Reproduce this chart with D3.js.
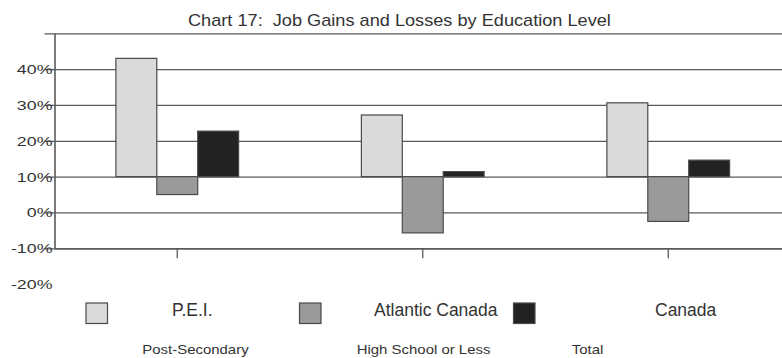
<!DOCTYPE html>
<html>
<head>
<meta charset="utf-8">
<script src="https://cdn.jsdelivr.net/npm/d3@7"></script>
<style>
  body { margin: 0; background: #fff; }
  svg { display: block; font-family: "Liberation Sans", Arial, sans-serif; }
</style>
</head>
<body>
<div id="chart"></div>
<script>
// data (percent change)
const categories = ['Post-Secondary', 'High School or Less', 'Total'];
const series = ['P.E.I.', 'Atlantic Canada', 'Canada'];
const peiValues = [33, 17.2, 20.6];
const atlanticValues = [-5, -15.7, -12.5];
const canadaValues = [12.7, 1.4, 4.6];
const yTicks = [-20, -10, 0, 10, 20, 30, 40];

const COLORS = ['#dadada', '#9a9a9a', '#222222'];
const LINE = '#5a5a5a';

const WIDTH = 782, HEIGHT = 358;
const PLOT = {LEFT: 54.5, RIGHT: 791, TOP: 33.3, BOTTOM: 248.3};

const rows = categories.map((c, i) => ({
  category: c,
  values: [peiValues[i], atlanticValues[i], canadaValues[i]]
}));

const svg = d3.select('#chart')
  .append('svg')
    .attr('width', WIDTH)
    .attr('height', HEIGHT);

const x0 = d3.scaleBand()
  .domain(categories)
  .range([PLOT.LEFT, PLOT.RIGHT]);

const x1 = d3.scaleBand()
  .domain(series)
  .range([0, x0.bandwidth()])
  .paddingInner(0)
  .paddingOuter(1.5);

const y = d3.scaleLinear()
  .domain([-20, 40])
  .range([PLOT.BOTTOM, PLOT.TOP]);

const step = y(0) - y(10);

// gridlines + left axis (labels sit one step low, as in the original)
const yAxis = svg.append('g')
  .attr('transform', `translate(${PLOT.LEFT}, 0)`)
  .call(d3.axisLeft(y)
    .tickValues(yTicks)
    .tickSizeInner(-(PLOT.RIGHT - PLOT.LEFT))
    .tickSizeOuter(0)
    .tickFormat(d => d + '%'));

yAxis.select('.domain').attr('stroke', LINE).attr('stroke-width', 1.6);
yAxis.selectAll('.tick line')
  .attr('x1', -10)
  .attr('stroke', LINE)
  .attr('stroke-width', 1.3);
yAxis.selectAll('.tick text')
  .attr('x', null)
  .attr('dy', null)
  .attr('transform', `translate(-2, ${step + 4.5}) scale(1.32, 1)`)
  .attr('font-size', 13.5)
  .attr('font-family', '"Liberation Sans", Arial, sans-serif')
  .attr('fill', '#333');

// bottom axis
const xAxis = svg.append('g')
  .attr('transform', `translate(0, ${PLOT.BOTTOM})`)
  .call(d3.axisBottom(x0).tickSize(10).tickSizeOuter(0).tickFormat(''));

xAxis.select('.domain').attr('stroke', LINE).attr('stroke-width', 1.4);
xAxis.selectAll('.tick line').attr('stroke', LINE).attr('stroke-width', 1.3);

// bars
const groups = svg.append('g')
  .selectAll('g')
  .data(rows)
  .enter().append('g')
    .attr('transform', d => `translate(${x0(d.category)}, 0)`);

groups.selectAll('rect')
  .data(d => d.values.map((v, i) => ({key: series[i], value: v, i})))
  .enter().append('rect')
    .attr('x', d => x1(d.key))
    .attr('width', x1.bandwidth())
    .attr('y', d => y(Math.max(0, d.value)))
    .attr('height', d => Math.abs(y(d.value) - y(0)))
    .attr('fill', d => COLORS[d.i])
    .attr('stroke', '#4a4a4a')
    .attr('stroke-width', 1.2);

// title
svg.append('text')
  .attr('transform', 'translate(188, 25.5) scale(1.135, 1)')
  .attr('font-size', 16)
  .attr('fill', '#333')
  .style('white-space', 'pre')
  .text('Chart 17:  Job Gains and Losses by Education Level');

// legend
const legendBox = [86, 299.5, 513.5];
const legendText = [172, 374, 655];

const legend = svg.append('g');
legend.selectAll('rect')
  .data(series)
  .enter().append('rect')
    .attr('x', (d, i) => legendBox[i])
    .attr('y', 303)
    .attr('width', 21.5)
    .attr('height', 20.5)
    .attr('fill', (d, i) => COLORS[i])
    .attr('stroke', '#4a4a4a')
    .attr('stroke-width', 1.2);

legend.selectAll('text')
  .data(series)
  .enter().append('text')
    .attr('x', (d, i) => legendText[i])
    .attr('y', 315.5)
    .attr('font-size', 17.5)
    .attr('fill', '#333')
    .text(d => d);

// category labels (placed where the original put them)
const categoryX = [142.3, 356.7, 571.7];
svg.append('g')
  .selectAll('text')
  .data(categories)
  .enter().append('text')
    .attr('transform', (d, i) => `translate(${categoryX[i]}, 354) scale(1.15, 1)`)
    .attr('font-size', 13)
    .attr('fill', '#333')
    .text(d => d);
</script>
</body>
</html>
